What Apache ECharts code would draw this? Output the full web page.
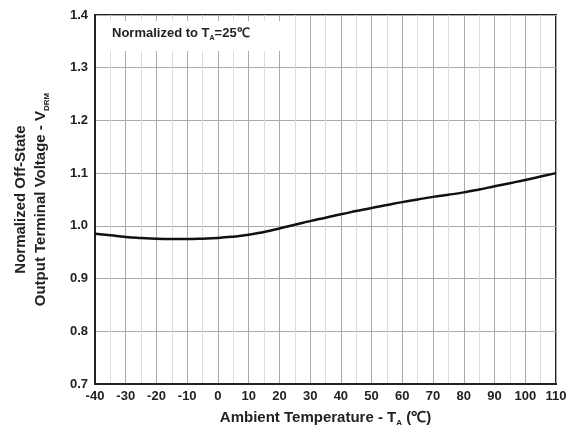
<!DOCTYPE html>
<html>
<head>
<meta charset="utf-8">
<script src="https://cdn.jsdelivr.net/npm/echarts@6/dist/echarts.min.js"></script>
<style>
  html, body { margin: 0; padding: 0; background: #fff; }
  #chart { width: 579px; height: 432px; }
</style>
</head>
<body>
<div id="chart"></div>
<script>
var temps = [-40, -35, -30, -25, -20, -15, -10, -5, 0, 5, 10, 15, 20, 25, 30, 35, 40, 45, 50, 55, 60, 65, 70, 75, 80, 85, 90, 95, 100, 105, 110];
var voltage = [0.985, 0.982, 0.979, 0.977, 0.9755, 0.975, 0.975, 0.9757, 0.977, 0.9795, 0.983, 0.9885, 0.995, 1.002, 1.009, 1.0155, 1.022, 1.028, 1.034, 1.0395, 1.045, 1.050, 1.055, 1.059, 1.0635, 1.069, 1.075, 1.081, 1.087, 1.0935, 1.1];

var pts = [];
for (var i = 0; i < temps.length; i++) pts.push([temps[i], voltage[i]]);

var myChart = echarts.init(document.getElementById('chart'));
var font = 'Liberation Sans, Arial, sans-serif';

option = {
    animation: false,
    grid: { left: 95, right: 23, top: 15, bottom: 48, outerBoundsMode: 'none', show: true, borderColor: '#222', borderWidth: 2 },
    xAxis: {
        type: 'value',
        min: -40,
        max: 110,
        interval: 10,
        axisLine: { show: true, onZero: false, lineStyle: { color: '#222', width: 2 } },
        axisTick: { show: false },
        minorTick: { show: false, splitNumber: 2 },
        splitLine: { show: true, lineStyle: { color: '#aaa', width: 1 } },
        minorSplitLine: { show: true, lineStyle: { color: '#ddd', width: 1 } },
        axisLabel: { color: '#222', fontFamily: font, fontWeight: 'bold', fontSize: 13, margin: 6 },
        name: '{a|Ambient Temperature - T}{s|A}{a| (℃)}',
        nameLocation: 'middle',
        nameGap: 25,
        nameTextStyle: {
            rich: {
                a: { fontFamily: font, fontWeight: 'bold', fontSize: 15, color: '#222', lineHeight: 18 },
                s: { fontFamily: font, fontWeight: 'bold', fontSize: 8, color: '#222', lineHeight: 14, verticalAlign: 'bottom' }
            }
        }
    },
    yAxis: {
        type: 'value',
        min: 0.7,
        max: 1.4,
        interval: 0.1,
        axisLine: { show: true, onZero: false, lineStyle: { color: '#222', width: 2 } },
        axisTick: { show: false },
        splitLine: { show: true, lineStyle: { color: '#aaa', width: 1 } },
        axisLabel: {
            color: '#222', fontFamily: font, fontWeight: 'bold', fontSize: 13, margin: 7,
            formatter: function (v) { return v.toFixed(1); }
        },
        name: '{a|Normalized Off-State}\n{a|Output Terminal Voltage - V}{s|DRM}',
        nameLocation: 'middle',
        nameRotate: 90,
        nameGap: 44,
        nameTextStyle: {
            rich: {
                a: { fontFamily: font, fontWeight: 'bold', fontSize: 15, color: '#222', lineHeight: 20 },
                s: { fontFamily: font, fontWeight: 'bold', fontSize: 8, color: '#222', lineHeight: 14, verticalAlign: 'bottom' }
            }
        }
    },
    graphic: [
        {
            type: 'rect',
            left: 97, top: 21,
            shape: { width: 186, height: 30 },
            style: { fill: '#fff' },
            z: 10
        },
        {
            type: 'text',
            left: 112, top: 27,
            z: 11,
            style: {
                text: '{a|Normalized to T}{s|A}{a|=25℃}',
                rich: {
                    a: { fontFamily: font, fontWeight: 'bold', fontSize: 13, fill: '#222', lineHeight: 16 },
                    s: { fontFamily: font, fontWeight: 'bold', fontSize: 7, fill: '#222', lineHeight: 12, verticalAlign: 'bottom' }
                }
            }
        }
    ],
    series: [{
        type: 'line',
        data: pts,
        smooth: true,
        showSymbol: false,
        lineStyle: { color: '#111', width: 2.5 },
        z: 5
    }]
};

myChart.setOption(option);
</script>
</body>
</html>
